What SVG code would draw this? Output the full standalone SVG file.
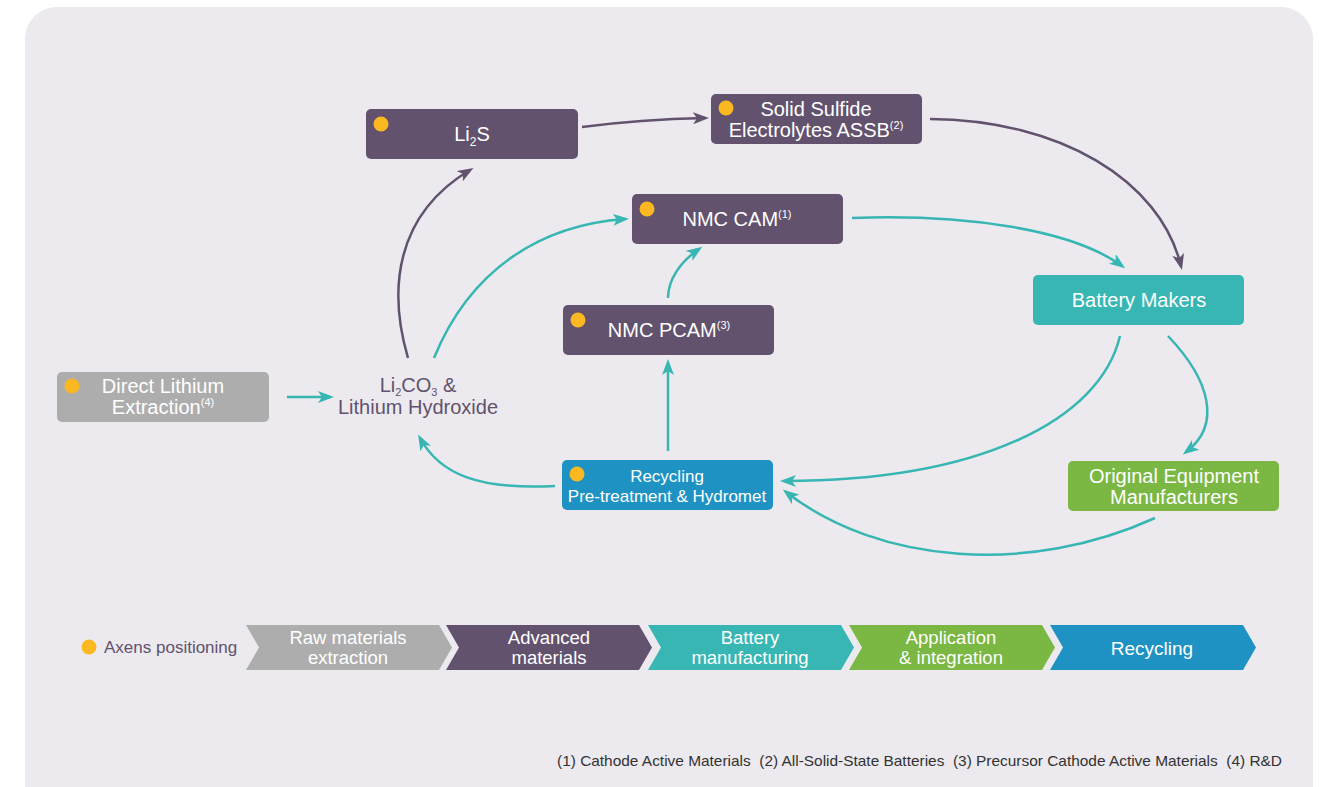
<svg xmlns="http://www.w3.org/2000/svg" width="1319" height="787" viewBox="0 0 1319 787">
<defs>
<style>
.t{font-family:"Liberation Sans",Arial,sans-serif;font-size:20px;fill:#ffffff;text-anchor:middle}
.ch{font-size:18.5px}
.p{fill:#62526E}
.dot{fill:#FBB820}
.c{fill:none;stroke-width:2.5}
.cp{stroke:#62526E}
.ct{stroke:#37B6B3}
.sup{font-size:11px}
</style>
<marker id="ap" viewBox="0 0 16 12" refX="12" refY="6" markerWidth="16" markerHeight="12" markerUnits="userSpaceOnUse" orient="auto">
<path d="M0,0 L16,6 L0,12 L4,6 Z" fill="#62526E"/>
</marker>
<marker id="at" viewBox="0 0 16 12" refX="12" refY="6" markerWidth="16" markerHeight="12" markerUnits="userSpaceOnUse" orient="auto">
<path d="M0,0 L16,6 L0,12 L4,6 Z" fill="#37B6B3"/>
</marker>
</defs>
<rect x="0" y="0" width="1319" height="787" fill="#ffffff"/>
<rect x="25" y="7" width="1288" height="810" rx="32" fill="#ECEAEE"/>

<g id="connectors">
<path class="c cp" d="M582,127 C620,122 660,119 705,118" marker-end="url(#ap)"/>
<path class="c cp" d="M930,119 C1060,120 1160,180 1181,266" marker-end="url(#ap)"/>
<path class="c ct" d="M852,218 C960,214 1070,228 1122,266" marker-end="url(#at)"/>
<path class="c cp" d="M408,358 C388,290 395,215 470,170" marker-end="url(#ap)"/>
<path class="c ct" d="M434,358 C470,270 540,225 625,219" marker-end="url(#at)"/>
<path class="c ct" d="M668,298 C668,280 680,262 699,249" marker-end="url(#at)"/>
<path class="c ct" d="M668,451 L668,363" marker-end="url(#at)"/>
<path class="c ct" d="M555,486 C480,490 440,475 420,438" marker-end="url(#at)"/>
<path class="c ct" d="M1120,336 C1100,420 980,481 784,481" marker-end="url(#at)"/>
<path class="c ct" d="M1168,336 C1210,380 1222,425 1186,452" marker-end="url(#at)"/>
<path class="c ct" d="M1155,518 C1030,575 880,565 786,492" marker-end="url(#at)"/>
<path class="c ct" d="M287,397 L330,397" marker-end="url(#at)"/>
</g>

<g id="li2s">
<rect x="366" y="109" width="212" height="50" rx="5" class="p"/>
<circle cx="381" cy="124" r="7.5" class="dot"/>
<text class="t" x="472" y="141">Li<tspan font-size="12" dy="5">2</tspan><tspan dy="-5">S</tspan></text>
</g>

<g id="solid-sulfide">
<rect x="711" y="94" width="211" height="50" rx="5" class="p"/>
<circle cx="726" cy="108" r="7.5" class="dot"/>
<text class="t" x="816" y="116">Solid Sulfide<tspan x="816" dy="21">Electrolytes ASSB</tspan><tspan class="sup" dy="-8">(2)</tspan></text>
</g>

<g id="nmc-cam">
<rect x="632" y="194" width="211" height="50" rx="5" class="p"/>
<circle cx="647" cy="209" r="7.5" class="dot"/>
<text class="t" x="737" y="226">NMC CAM<tspan class="sup" dy="-8">(1)</tspan></text>
</g>

<g id="nmc-pcam">
<rect x="563" y="305" width="211" height="50" rx="5" class="p"/>
<circle cx="578" cy="320" r="7.5" class="dot"/>
<text class="t" x="669" y="337">NMC PCAM<tspan class="sup" dy="-8">(3)</tspan></text>
</g>

<g id="battery-makers">
<rect x="1033" y="275" width="211" height="50" rx="5" fill="#37B6B3"/>
<text class="t" x="1139" y="307">Battery Makers</text>
</g>

<g id="direct-lithium">
<rect x="57" y="372" width="212" height="50" rx="5" fill="#ADADAD"/>
<circle cx="72" cy="386" r="7.5" class="dot"/>
<text class="t" x="163" y="393">Direct Lithium<tspan x="163" dy="21">Extraction</tspan><tspan class="sup" dy="-8">(4)</tspan></text>
</g>

<g id="li2co3">
<text class="t" x="418" y="392" style="fill:#62526E">Li<tspan font-size="11" dy="4">2</tspan><tspan dy="-4">CO</tspan><tspan font-size="11" dy="4">3</tspan><tspan dy="-4"> &amp;</tspan><tspan x="418" dy="22">Lithium Hydroxide</tspan></text>
</g>

<g id="recycling">
<rect x="562" y="460" width="211" height="50" rx="5" fill="#1E93C3"/>
<circle cx="577" cy="474" r="7.5" class="dot"/>
<text class="t" x="667" y="482" style="font-size:17px">Recycling<tspan x="667" dy="20">Pre-treatment &amp; Hydromet</tspan></text>
</g>

<g id="oem">
<rect x="1068" y="461" width="211" height="50" rx="5" fill="#7AB743"/>
<text class="t" x="1174" y="483">Original Equipment<tspan x="1174" dy="21">Manufacturers</tspan></text>
</g>

<g id="legend">
<circle cx="89" cy="647" r="7.5" class="dot"/>
<text x="104" y="653" style="font-family:'Liberation Sans',Arial,sans-serif;font-size:17px;fill:#62526E">Axens positioning</text>
<path d="M246,625 L439,625 L452,647.5 L439,670 L246,670 L259,647.5 Z" fill="#ADADAD"/>
<path d="M446,625 L639,625 L652,647.5 L639,670 L446,670 L459,647.5 Z" fill="#62526E"/>
<path d="M648,625 L841,625 L854,647.5 L841,670 L648,670 L661,647.5 Z" fill="#37B6B3"/>
<path d="M849,625 L1042,625 L1055,647.5 L1042,670 L849,670 L862,647.5 Z" fill="#7AB743"/>
<path d="M1050,625 L1243,625 L1256,647.5 L1243,670 L1050,670 L1063,647.5 Z" fill="#1E93C3"/>
<text class="t ch" x="348" y="644">Raw materials<tspan x="348" dy="20">extraction</tspan></text>
<text class="t ch" x="549" y="644">Advanced<tspan x="549" dy="20">materials</tspan></text>
<text class="t ch" x="750" y="644">Battery<tspan x="750" dy="20">manufacturing</tspan></text>
<text class="t ch" x="951" y="644">Application<tspan x="951" dy="20">&amp; integration</tspan></text>
<text class="t" x="1152" y="655" style="font-size:19px">Recycling</text>
</g>

<text x="557" y="766" xml:space="preserve" textLength="725" lengthAdjust="spacingAndGlyphs" style="font-family:'Liberation Sans',Arial,sans-serif;font-size:14.5px;fill:#333333;white-space:pre">(1) Cathode Active Materials  (2) All-Solid-State Batteries  (3) Precursor Cathode Active Materials  (4) R&amp;D</text>
</svg>
